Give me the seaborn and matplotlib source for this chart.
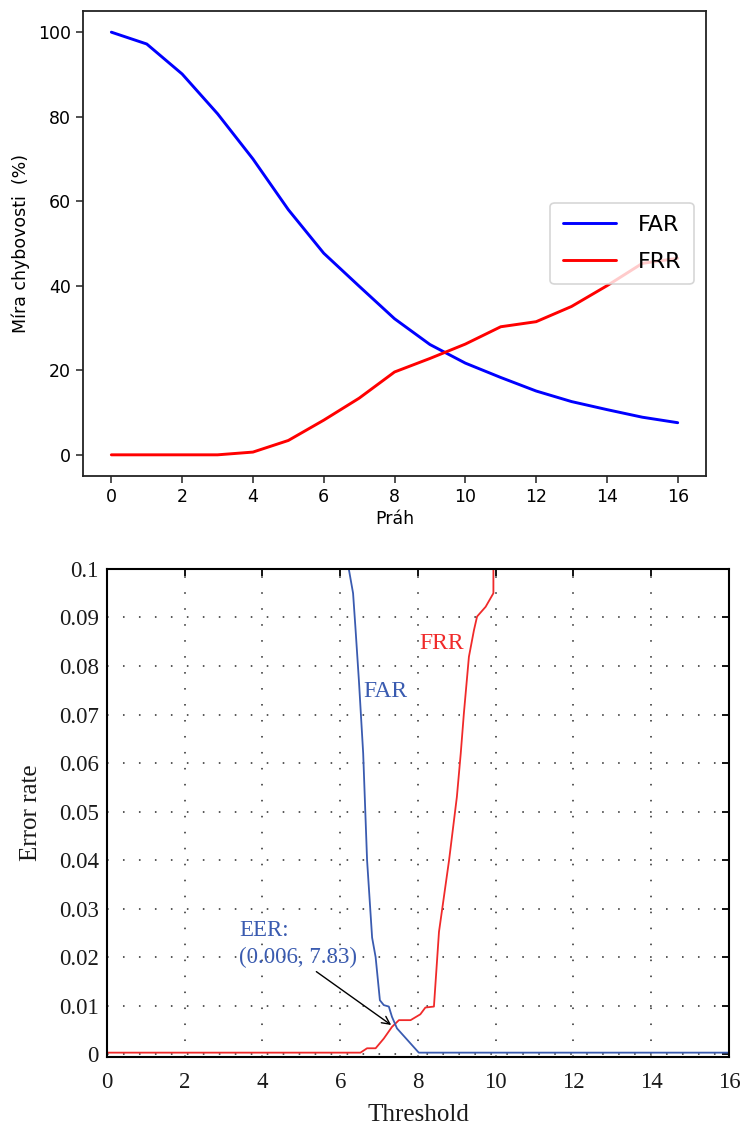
import matplotlib
matplotlib.use("Agg")
import matplotlib.pyplot as plt
import seaborn as sns
import pandas as pd
import numpy as np

# ---------- top chart data ----------
prah = [0, 1, 2, 3, 4, 5, 6, 7, 8, 9, 10, 11, 12, 13, 14, 15, 16]
far_top = [100.0, 97.2, 90.1, 80.7, 70.0, 58.0, 47.7, 39.9, 32.2, 26.1, 21.7, 18.3, 15.1, 12.6, 10.7, 8.9, 7.6]
frr_top = [0.0, 0.0, 0.0, 0.0, 0.65, 3.4, 8.2, 13.4, 19.6, 22.8, 26.2, 30.3, 31.5, 35.1, 40.0, 45.3, 46.5]

# ---------- bottom chart data ----------
far_x = [6.18, 6.22, 6.33, 6.39, 6.48, 6.59, 6.69, 6.82, 6.91, 7.02, 7.12, 7.25, 7.33, 7.46, 8.02, 16.0]
far_y = [0.104, 0.1, 0.095, 0.088, 0.077, 0.062, 0.040, 0.024, 0.020, 0.0111, 0.0101, 0.0098, 0.0077, 0.0053, 0.0003, 0.0003]
frr_x = [0.0, 6.52, 6.69, 6.91, 7.12, 7.33, 7.51, 7.81, 8.06, 8.19, 8.41, 8.54, 8.80, 9.0, 9.10, 9.18, 9.31, 9.44, 9.52, 9.74, 9.94, 9.94]
frr_y = [0.0003, 0.0003, 0.0012, 0.0012, 0.0032, 0.0056, 0.0070, 0.0070, 0.0082, 0.0096, 0.0098, 0.0252, 0.040, 0.053, 0.062, 0.0702, 0.0819, 0.0874, 0.0902, 0.0922, 0.095, 0.11]
eer_text = "EER:\n(0.006, 7.83)"
eer_point = (7.31, 0.0060)
eer_text_pos = (3.40, 0.0188)
arrow_tail = (5.385, 0.0170)
x_ticks_bottom = [0, 2, 4, 6, 8, 10, 12, 14, 16]
y_ticks_bottom = [0, 0.01, 0.02, 0.03, 0.04, 0.05, 0.06, 0.07, 0.08, 0.09, 0.1]

sns.set_style("white")
plt.rcParams['font.family'] = ['DejaVu Sans']
plt.rcParams['text.color'] = 'black'
plt.rcParams['axes.labelcolor'] = 'black'
plt.rcParams['xtick.color'] = 'black'
plt.rcParams['ytick.color'] = 'black'

fig = plt.figure(figsize=(7.4, 11.26), dpi=100)

# ================= TOP =================
ax1 = fig.add_axes([0.1122, 0.5773, 0.9541 - 0.1122, 0.9902 - 0.5773])
df_top = pd.DataFrame({
    "Práh": prah * 2,
    "val": far_top + frr_top,
    "series": ["FAR"] * len(prah) + ["FRR"] * len(prah),
})
sns.lineplot(data=df_top, x="Práh", y="val", hue="series",
             palette={"FAR": "blue", "FRR": "red"}, linewidth=2.1, ax=ax1,
             estimator=None, sort=False)
ax1.set_xticks([0, 2, 4, 6, 8, 10, 12, 14, 16])
ax1.set_yticks([0, 20, 40, 60, 80, 100])
ax1.margins(x=0.05, y=0.05)
ax1.set_xlabel("Práh", fontsize=12.5, labelpad=3)
ax1.set_ylabel("Míra chybovosti  (%)", fontsize=12.5, labelpad=6)
ax1.tick_params(axis="both", labelsize=12.5, length=5, width=1.1,
                direction="out", bottom=True, left=True, color="#222222",
                labelcolor="black")
for s in ax1.spines.values():
    s.set_visible(True)
    s.set_color("#222222")
    s.set_linewidth(1.3)
leg = ax1.legend(loc="center right", fontsize=16, frameon=True,
                 handlelength=2.4, handletextpad=1.0, labelspacing=0.75,
                 borderpad=0.55, borderaxespad=0.55)
leg.get_frame().set_edgecolor("#cccccc")
leg.get_frame().set_linewidth(1.2)
for line in leg.get_lines():
    line.set_linewidth(2.1)

# ================= BOTTOM =================
serif = ['Liberation Serif', 'DejaVu Serif']
ax2 = fig.add_axes([0.1446, 0.0617, 0.9851 - 0.1446, 0.4947 - 0.0617])
df_far = pd.DataFrame({"x": far_x, "y": far_y})
df_frr = pd.DataFrame({"x": frr_x, "y": frr_y})
far_col = "#3a5bb0"
frr_col = "#f02a2a"
sns.lineplot(data=df_frr, x="x", y="y", color=frr_col, linewidth=1.3,
             estimator=None, sort=False, ax=ax2)
sns.lineplot(data=df_far, x="x", y="y", color=far_col, linewidth=1.3,
             estimator=None, sort=False, ax=ax2)
ax2.set_xlim(0, 16)
ax2.set_ylim(-0.0005, 0.1)
ax2.set_xticks(x_ticks_bottom)
ax2.set_yticks(y_ticks_bottom)
ax2.set_xticklabels([f"{v:g}" for v in x_ticks_bottom], family=serif, fontsize=16.5)
ax2.set_yticklabels([f"{v:g}" for v in y_ticks_bottom], family=serif, fontsize=16.5)
ax2.tick_params(axis="both", direction="in", top=True, right=True,
                length=5, width=1.3, color="black", labelcolor="#1a1a1a")
ax2.tick_params(axis="x", pad=11)
ax2.tick_params(axis="y", pad=6)
ax2.grid(True, color="black", linestyle=(0, (1, 9)), linewidth=1.15, alpha=0.8)
for s in ax2.spines.values():
    s.set_visible(True)
    s.set_color("black")
    s.set_linewidth(1.5)
ax2.set_xlabel("Threshold", family=serif, fontsize=18, labelpad=8, color="#1a1a1a")
ax2.set_ylabel("Error rate", family=serif, fontsize=18, labelpad=12, color="#1a1a1a")

ax2.text(6.60, 0.0736, "FAR", color=far_col, family=serif, fontsize=17,
         ha="left", va="baseline")
ax2.text(8.04, 0.0835, "FRR", color=frr_col, family=serif, fontsize=17,
         ha="left", va="baseline")
ax2.text(eer_text_pos[0], eer_text_pos[1], eer_text, color=far_col, family=serif,
         fontsize=16.5, ha="left", va="baseline", linespacing=1.35)
ax2.annotate("", xy=eer_point, xytext=arrow_tail,
             arrowprops=dict(arrowstyle="->", color="black", lw=1.0,
                             shrinkA=0, shrinkB=0, mutation_scale=14))

fig.savefig("out.png", dpi=100)
